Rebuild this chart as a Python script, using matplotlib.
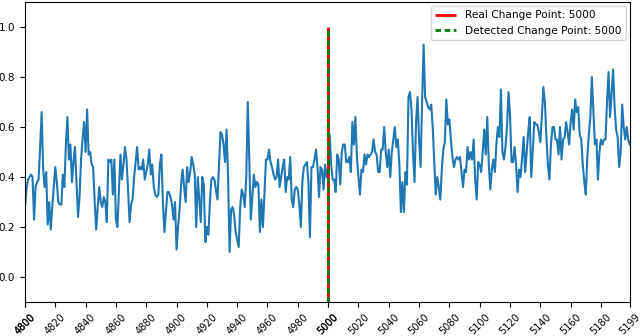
import matplotlib as mpl
mpl.use('Agg')
import matplotlib.pyplot as plt
import numpy as np

start = 4800
end = 5199
real_cp = 5000
detected_cp = 5000

# values, one per time step (4800..5199)
values = [
    0.28, 0.35, 0.39, 0.40, 0.41, 0.40, 0.23, 0.36, 0.38, 0.39,
    0.52, 0.66, 0.43, 0.36, 0.42, 0.21, 0.30, 0.19, 0.28, 0.36,
    0.44, 0.38, 0.30, 0.29, 0.29, 0.41, 0.36, 0.53, 0.64, 0.47,
    0.53, 0.38, 0.46, 0.52, 0.38, 0.24, 0.32, 0.47, 0.55, 0.62,
    0.50, 0.67, 0.49, 0.50, 0.45, 0.44, 0.30, 0.19, 0.28, 0.36,
    0.30, 0.28, 0.32, 0.30, 0.22, 0.47, 0.46, 0.47, 0.33, 0.47,
    0.23, 0.20, 0.35, 0.49, 0.39, 0.45, 0.52, 0.47, 0.35, 0.22,
    0.29, 0.31, 0.40, 0.46, 0.52, 0.43, 0.44, 0.43, 0.47, 0.39,
    0.42, 0.45, 0.51, 0.41, 0.45, 0.36, 0.33, 0.32, 0.33, 0.45,
    0.49, 0.30, 0.18, 0.26, 0.34, 0.34, 0.32, 0.29, 0.23, 0.30,
    0.11, 0.20, 0.27, 0.37, 0.43, 0.36, 0.30, 0.44, 0.38, 0.42,
    0.48, 0.45, 0.41, 0.20, 0.40, 0.31, 0.22, 0.40, 0.37, 0.14,
    0.20, 0.17, 0.30, 0.39, 0.40, 0.39, 0.35, 0.31, 0.45, 0.58,
    0.57, 0.53, 0.46, 0.59, 0.40, 0.10, 0.27, 0.28, 0.25, 0.18,
    0.15, 0.12, 0.28, 0.35, 0.33, 0.28, 0.40, 0.70, 0.47, 0.23,
    0.32, 0.41, 0.36, 0.38, 0.37, 0.18, 0.31, 0.20, 0.34, 0.47,
    0.47, 0.51, 0.46, 0.44, 0.41, 0.39, 0.40, 0.47, 0.36, 0.40,
    0.44, 0.47, 0.34, 0.40, 0.39, 0.48, 0.31, 0.28, 0.35, 0.36,
    0.35, 0.29, 0.20, 0.38, 0.44, 0.45, 0.46, 0.38, 0.16, 0.44,
    0.44, 0.47, 0.51, 0.44, 0.32, 0.44, 0.43, 0.35, 0.45, 0.40,
    0.40, 0.57, 0.45, 0.39, 0.39, 0.34, 0.49, 0.47, 0.37, 0.50,
    0.53, 0.53, 0.46, 0.46, 0.48, 0.42, 0.62, 0.53, 0.64, 0.48,
    0.40, 0.33, 0.43, 0.42, 0.49, 0.45, 0.49, 0.48, 0.49, 0.50,
    0.55, 0.50, 0.49, 0.42, 0.42, 0.51, 0.51, 0.60, 0.50, 0.44,
    0.51, 0.40, 0.50, 0.55, 0.60, 0.52, 0.55, 0.45, 0.26, 0.38,
    0.26, 0.42, 0.37, 0.72, 0.74, 0.67, 0.50, 0.38, 0.62, 0.72,
    0.55, 0.44, 0.70, 0.93, 0.72, 0.70, 0.68, 0.67, 0.69, 0.60,
    0.46, 0.33, 0.40, 0.36, 0.31, 0.43, 0.51, 0.54, 0.71, 0.61,
    0.63, 0.55, 0.48, 0.44, 0.47, 0.48, 0.47, 0.48, 0.42, 0.36,
    0.43, 0.42, 0.52, 0.47, 0.50, 0.47, 0.55, 0.39, 0.31, 0.46,
    0.45, 0.42, 0.50, 0.59, 0.49, 0.64, 0.45, 0.35, 0.43, 0.47,
    0.42, 0.53, 0.60, 0.56, 0.75, 0.50, 0.47, 0.52, 0.60, 0.74,
    0.65, 0.46, 0.46, 0.52, 0.45, 0.34, 0.43, 0.40, 0.48, 0.56,
    0.42, 0.50, 0.58, 0.64, 0.40, 0.50, 0.62, 0.61, 0.61, 0.58,
    0.54, 0.64, 0.76, 0.70, 0.56, 0.45, 0.39, 0.53, 0.60, 0.60,
    0.55, 0.55, 0.49, 0.60, 0.47, 0.55, 0.56, 0.62, 0.58, 0.53,
    0.62, 0.67, 0.59, 0.71, 0.66, 0.68, 0.57, 0.55, 0.45, 0.38,
    0.33, 0.48, 0.57, 0.64, 0.80, 0.66, 0.53, 0.55, 0.39, 0.50,
    0.55, 0.53, 0.55, 0.55, 0.70, 0.82, 0.64, 0.73, 0.83, 0.68,
    0.59, 0.56, 0.44, 0.50, 0.69, 0.60, 0.55, 0.60, 0.55, 0.53,
]
t = np.arange(start, start + len(values))

# tick positions: every 20 steps, plus start / change point / end
xticks = [start, real_cp, end] + list(range(start, end + 1, 20))

fig = plt.figure(figsize=(6.4, 3.36), dpi=100)
ax = fig.add_axes([0.039, 0.101, 0.945, 0.893])

ax.plot(t, values, color='#1f77b4', lw=1.5)
ax.vlines(real_cp, -0.1, 1.0, colors='red', lw=2, label='Real Change Point: %d' % real_cp)
ax.vlines(detected_cp, -0.1, 1.0, colors='green', lw=2, linestyles=(0, (2, 1.3)),
          label='Detected Change Point: %d' % detected_cp)

ax.set_xlim(start, end)
ax.set_ylim(-0.1, 1.1)
ax.set_xticks(xticks)
ax.set_xticklabels([str(x) for x in xticks], rotation=45, fontsize=7)
ax.set_yticks([0.0, 0.2, 0.4, 0.6, 0.8, 1.0])
ax.tick_params(axis='y', labelsize=7.5)
ax.legend(loc='upper right', fontsize=7.6, borderaxespad=0.4)

fig.savefig('out.png', dpi=100)
